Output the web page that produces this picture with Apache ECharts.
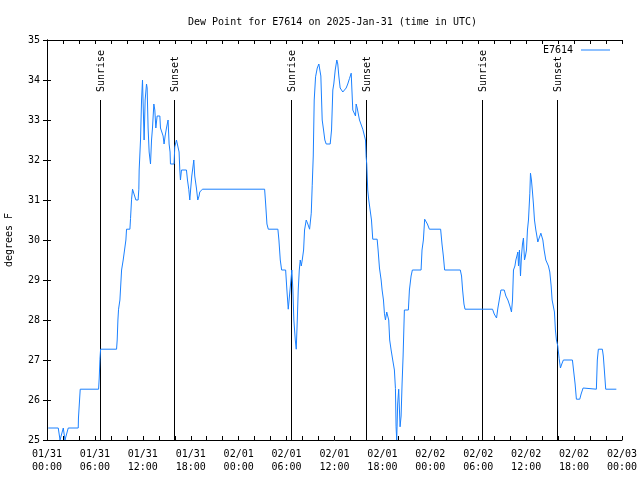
<!DOCTYPE html>
<html>
<head>
<meta charset="utf-8">
<script src="https://cdn.jsdelivr.net/npm/echarts@6/dist/echarts.min.js"></script>
<style>html,body{margin:0;padding:0;background:#fff;}#c{width:640px;height:480px;}</style>
</head>
<body>
<div id="c"></div>
<script>
// hours since 2025-01-31 00:00 UTC
const hours = [0.16,1.41,1.63,1.75,2.04,2.25,2.44,2.66,3.91,3.94,4.16,6.46,6.54,6.63,6.71,8.71,8.79,8.88,8.96,9.13,9.34,9.54,9.75,9.88,9.96,10.38,10.46,10.59,10.71,10.96,11.13,11.41,11.5,11.54,11.71,11.84,11.96,12.16,12.29,12.46,12.54,12.66,12.79,12.96,13.09,13.21,13.38,13.5,13.63,13.79,13.91,14.13,14.21,14.38,14.54,14.66,14.79,14.96,15.04,15.16,15.29,15.41,15.46,15.91,16.0,16.21,16.46,16.54,16.63,16.71,16.84,17.46,17.59,17.75,17.88,18.0,18.13,18.29,18.38,18.5,18.71,18.88,19.04,19.13,19.46,27.25,27.38,27.54,27.71,28.91,29.04,29.21,29.38,29.88,30.04,30.21,30.46,30.66,30.79,30.91,31.09,31.21,31.34,31.46,31.59,31.71,31.84,31.96,32.13,32.25,32.46,32.66,32.88,33.09,33.21,33.34,33.46,33.63,33.84,34.04,34.13,34.29,34.46,34.63,34.79,34.96,35.46,35.63,35.79,35.91,36.09,36.29,36.41,36.54,36.71,36.88,37.04,37.25,37.46,37.66,37.88,38.09,38.29,38.5,38.63,38.71,38.84,38.96,39.13,39.34,39.54,39.79,39.88,39.96,40.04,40.16,40.29,40.46,40.63,40.79,41.34,41.46,41.63,41.84,41.96,42.13,42.25,42.38,42.54,42.66,42.79,42.91,43.09,43.29,43.5,43.63,43.71,43.79,43.91,44.04,44.21,44.34,44.46,44.59,44.75,45.25,45.38,45.59,45.75,46.84,46.96,47.13,47.29,47.46,47.63,47.88,49.29,49.46,49.63,49.79,51.75,51.91,52.04,52.21,52.34,55.79,56.0,56.29,56.46,56.63,56.84,57.25,57.46,57.71,57.96,58.16,58.29,58.41,58.59,58.71,58.84,58.96,59.04,59.16,59.29,59.41,59.54,59.66,59.79,59.91,60.04,60.16,60.29,60.46,60.54,60.66,60.79,60.91,61.04,61.21,61.34,61.46,61.63,61.84,61.96,62.09,62.25,62.46,62.66,62.79,62.96,63.13,63.25,63.41,63.54,63.66,63.79,63.96,64.0,64.13,64.29,64.46,64.66,65.79,65.96,66.13,66.29,66.71,66.88,67.13,67.34,68.79,68.91,69.04,69.54,69.66,69.79,69.96,71.29];
const dewPoint = [25.3,25.3,25.0,25.0,25.3,25.0,25.0,25.3,25.3,25.55,26.27,26.27,26.55,27.02,27.27,27.27,27.5,28.0,28.27,28.5,29.25,29.5,29.5,30.0,30.27,30.27,30.54,31.02,31.27,31.27,31.0,31.0,31.27,31.75,32.5,33.5,34.0,32.5,33.5,33.9,33.8,32.8,32.2,31.9,32.5,32.8,33.4,33.25,32.8,33.1,33.1,33.1,32.8,32.8,32.6,32.4,32.6,32.8,32.75,33.0,32.4,32.2,31.9,31.9,32.33,32.5,32.5,32.2,31.75,31.5,31.75,31.75,31.5,31.27,31.0,31.3,31.6,31.85,32.0,31.6,31.3,31.0,31.1,31.2,31.27,31.27,30.9,30.4,30.27,30.27,30.0,29.5,29.25,29.25,28.75,28.27,28.27,29.25,28.75,28.0,27.5,27.27,28.0,28.75,29.25,29.5,29.35,29.5,29.75,30.25,30.5,30.4,30.27,30.67,31.37,32.1,33.5,34.08,34.3,34.4,34.37,34.1,33.0,32.75,32.5,32.4,32.4,32.75,33.75,33.9,34.25,34.5,34.4,34.1,33.8,33.75,33.7,33.66,33.8,33.9,34.04,34.17,33.25,33.25,33.1,33.4,33.3,33.25,33.0,32.95,32.77,32.75,32.5,32.08,31.9,31.25,31.0,30.75,30.5,30.02,30.02,29.75,29.3,29.0,28.75,28.5,28.17,28.0,28.2,28.25,28.0,27.5,27.25,27.0,26.75,26.29,25.33,25.0,25.9,26.27,25.33,25.6,26.4,27.1,28.25,28.25,28.75,29.1,29.25,29.25,29.75,30.0,30.52,30.5,30.4,30.27,30.27,29.9,29.6,29.25,29.25,29.1,28.75,28.4,28.27,28.27,28.15,28.05,28.3,28.5,28.75,28.75,28.6,28.5,28.35,28.2,28.5,29.25,29.35,29.5,29.6,29.7,29.35,29.75,29.1,29.6,29.9,30.05,29.5,29.6,29.75,30.25,30.5,31.17,31.67,31.5,31.2,30.9,30.5,30.25,30.1,29.95,30.05,30.17,30.2,30.0,29.75,29.5,29.5,29.35,29.2,28.85,28.5,28.45,28.2,27.75,27.5,27.35,27.27,27.04,26.8,26.9,27.0,27.0,26.7,26.4,26.02,26.02,26.15,26.3,26.27,26.27,27.0,27.27,27.27,27.1,26.75,26.27,26.27];

const eventNames = ['Sunrise','Sunset','Sunrise','Sunset','Sunrise','Sunset'];
const eventHours = [6.66,15.91,30.59,39.91,54.41,63.91];
const eventTop = 33.5;

const xTickLabels = ['01/31\n00:00','01/31\n06:00','01/31\n12:00','01/31\n18:00','02/01\n00:00','02/01\n06:00','02/01\n12:00','02/01\n18:00','02/02\n00:00','02/02\n06:00','02/02\n12:00','02/02\n18:00','02/03\n00:00'];

const FONT = 'DejaVu Sans Mono';
const BLUE = '#1a80ff';
const chart = echarts.init(document.getElementById('c'), null, {renderer:'canvas'});
const axLine = {show:true, lineStyle:{color:'#000', width:1}};
const tick = {show:true, inside:true, length:4, lineStyle:{color:'#000', width:1}};

chart.setOption({
  animation:false,
  backgroundColor:'#fff',
  title:{text:'Dew Point for E7614 on 2025-Jan-31 (time in UTC)', left:183, top:12,
    textStyle:{fontFamily:FONT, fontSize:10, fontWeight:'normal', color:'#000'}},
  legend:{show:true, right:25, top:40, align:'right', itemWidth:29, itemHeight:1, icon:'rect',
    data:[{name:'E7614', icon:'rect', itemStyle:{color:BLUE}}],
    textStyle:{fontFamily:FONT, fontSize:10, color:'#000', padding:[0,3,0,0]}},
  grid:{left:47, right:18, top:40, bottom:40, containLabel:false, outerBoundsMode:'none'},
  xAxis:[
    {type:'value', min:0, max:72, interval:2, position:'bottom', axisLine:axLine, axisTick:tick, splitLine:{show:false},
      axisLabel:{fontFamily:FONT, fontSize:10, color:'#000', margin:8, lineHeight:13,
        formatter:v => (v % 6 === 0) ? xTickLabels[v/6] : ''}},
    {type:'value', min:0, max:72, interval:2, position:'top', axisLine:axLine, axisTick:tick, splitLine:{show:false}, axisLabel:{show:false}}
  ],
  yAxis:[
    {type:'value', min:25, max:35, interval:1, position:'left', axisLine:axLine, axisTick:tick, splitLine:{show:false},
      name:'degrees F', nameLocation:'middle', nameGap:33, nameRotate:90,
      nameTextStyle:{fontFamily:FONT, fontSize:10, color:'#000'},
      axisLabel:{fontFamily:FONT, fontSize:10, color:'#000', margin:7}},
    {type:'value', min:25, max:35, interval:1, position:'right', axisLine:axLine, axisTick:tick, splitLine:{show:false}, axisLabel:{show:false}}
  ],
  series:[
    {type:'custom', name:'events', xAxisIndex:0, yAxisIndex:0, silent:true, z:1,
      data: eventHours.map(h => [h, eventTop]),
      renderItem:(params, api) => {
        const top = api.coord([api.value(0), api.value(1)]);
        const bot = api.coord([api.value(0), 25]);
        const x = Math.round(top[0]) + 0.5;
        return {type:'group', children:[
          {type:'line', shape:{x1:x, y1:Math.round(top[1]), x2:x, y2:bot[1]}, style:{stroke:'#000', lineWidth:1}},
          {type:'text', x:x+1, y:top[1]-8, rotation:Math.PI/2,
            style:{text:eventNames[params.dataIndex], font:'10px "'+FONT+'"', fill:'#000', align:'left', verticalAlign:'middle'}}
        ]};
      }},
    {type:'line', name:'E7614', xAxisIndex:0, yAxisIndex:0, symbol:'none', showSymbol:false, z:3,
      lineStyle:{color:BLUE, width:1}, itemStyle:{color:BLUE},
      data: hours.map((h,i) => [h, dewPoint[i]])}
  ]
});
</script>
</body>
</html>
